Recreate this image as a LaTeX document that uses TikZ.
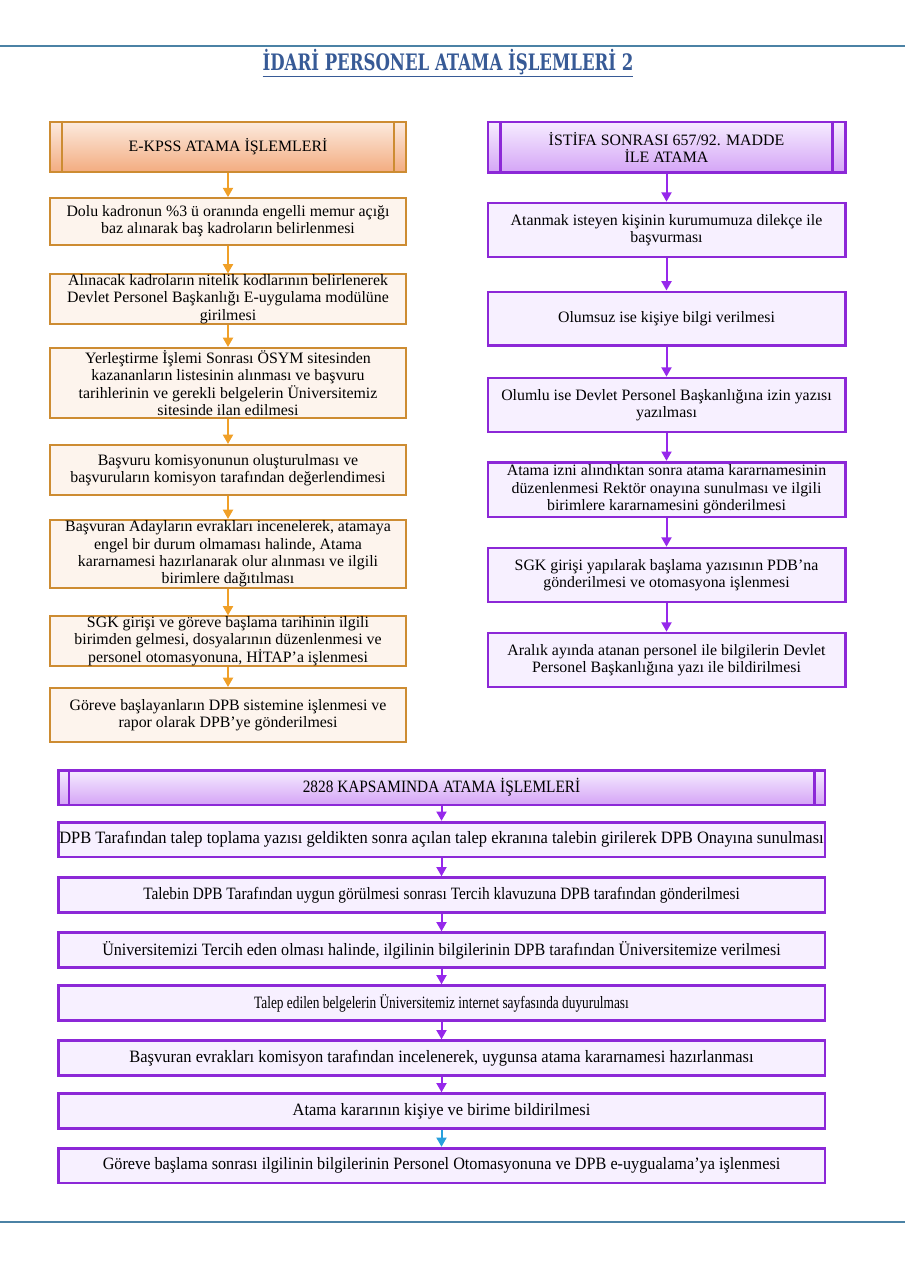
\documentclass[tikz,border=0pt]{standalone}
\usepackage{fontspec}
\usepackage{graphicx}
\setmainfont{Liberation Serif}
\newfontfamily\titlefont[FakeStretch=0.73]{DejaVu Serif}
\newfontfamily\narrowfont[FakeStretch=0.95]{Liberation Serif}
\usetikzlibrary{arrows.meta}

\definecolor{obord}{RGB}{205,140,50}
\definecolor{ofill}{RGB}{253,244,237}
\definecolor{oarrow}{RGB}{240,160,40}
\definecolor{otop}{RGB}{252,234,222}
\definecolor{obot}{RGB}{243,172,128}
\definecolor{pbord}{RGB}{140,40,215}
\definecolor{pfill}{RGB}{247,240,255}
\definecolor{parrow}{RGB}{150,40,235}
\definecolor{ptop}{RGB}{246,236,255}
\definecolor{pbot}{RGB}{212,164,246}
\definecolor{barrow}{RGB}{40,160,220}
\definecolor{rulecol}{RGB}{75,130,165}
\definecolor{titleblue}{RGB}{55,90,150}

% squeeze a line sideways
\newcommand{\squeezed}[2]{\scalebox{#1}[1]{#2}}

\begin{document}
\begin{tikzpicture}[x=0.75pt,y=-0.75pt]
\useasboundingbox (0,0) rectangle (905,1280);

% page rules and title
\draw[rulecol, line width=1.5pt] (0,46) -- (905,46);
\draw[rulecol, line width=1.5pt] (0,1222) -- (905,1222);
\node (title) at (448,63) [text=titleblue] {\titlefont\bfseries\fontsize{17}{20}\selectfont\underline{İDARİ PERSONEL ATAMA İŞLEMLERİ 2}};

\begin{scope}[every node/.style={align=center, inner sep=0pt, font=\fontsize{11.9}{13}\selectfont},
              obox/.style={draw=obord, line width=1.5pt, fill=ofill, minimum width=267pt},
              ohead/.style={draw=obord, line width=1.5pt, top color=otop, bottom color=obot, minimum width=267pt},
              pbox/.style={draw=pbord, line width=2pt, fill=pfill, minimum width=268pt},
              phead/.style={draw=pbord, line width=2pt, top color=ptop, bottom color=pbot, minimum width=268pt}]

    % E-KPSS column
    \node (e0) at (228, 147) [ohead, minimum height=37.5pt] {E-KPSS ATAMA İŞLEMLERİ};
    \node (e1) at (228, 221.5) [obox, minimum height=35pt] {Dolu kadronun \%3 ü oranında engelli memur açığı\\baz alınarak baş kadroların belirlenmesi};
    \node (e2) at (228, 299) [obox, minimum height=36pt] {Alınacak kadroların nitelik kodlarının belirlenerek\\Devlet Personel Başkanlığı E-uygulama modülüne\\girilmesi};
    \node (e3) at (228, 383) [obox, minimum height=52.5pt] {Yerleştirme İşlemi Sonrası ÖSYM sitesinden\\kazananların listesinin alınması ve başvuru\\tarihlerinin ve gerekli belgelerin Üniversitemiz\\sitesinde ilan edilmesi};
    \node (e4) at (228, 470) [obox, minimum height=37.5pt] {Başvuru komisyonunun oluşturulması ve\\başvuruların komisyon tarafından değerlendimesi};
    \node (e5) at (228, 554) [obox, minimum height=51pt] {Başvuran Adayların evrakları incenelerek, atamaya\\engel bir durum olmaması halinde, Atama\\kararnamesi hazırlanarak olur alınması ve ilgili\\birimlere dağıtılması};
    \node (e6) at (228, 641) [obox, minimum height=36pt] {SGK girişi ve göreve başlama tarihinin ilgili\\birimden gelmesi, dosyalarının düzenlenmesi ve\\personel otomasyonuna, HİTAP’a işlenmesi};
    \node (e7) at (228, 715) [obox, minimum height=40.5pt] {Göreve başlayanların DPB sistemine işlenmesi ve\\rapor olarak DPB’ye gönderilmesi};

    % istifa column
    \node (i0) at (666.5, 147.5) [phead, minimum height=38pt] {İSTİFA SONRASI 657/92. MADDE\\İLE ATAMA};
    \node (i1) at (666.5, 230) [pbox, minimum height=40.5pt] {Atanmak isteyen kişinin kurumumuza dilekçe ile\\başvurması};
    \node (i2) at (666.5, 318.5) [pbox, minimum height=40pt] {Olumsuz ise kişiye bilgi verilmesi};
    \node (i3) at (666.5, 405) [pbox, minimum height=40.5pt] {Olumlu ise Devlet Personel Başkanlığına izin yazısı\\yazılması};
    \node (i4) at (666.5, 489.5) [pbox, minimum height=41pt] {Atama izni alındıktan sonra atama kararnamesinin\\düzenlenmesi Rektör onayına sunulması ve ilgili\\birimlere kararnamesini gönderilmesi};
    \node (i5) at (666.5, 575) [pbox, minimum height=40.5pt] {SGK girişi yapılarak başlama yazısının PDB’na\\gönderilmesi ve otomasyona işlenmesi};
    \node (i6) at (666.5, 660) [pbox, minimum height=40.5pt] {Aralık ayında atanan personel ile bilgilerin Devlet\\Personel Başkanlığına yazı ile bildirilmesi};
\end{scope}

\begin{scope}[every node/.style={align=center, inner sep=0pt, font=\narrowfont\fontsize{13}{15}\selectfont},
              wbox/.style={draw=pbord, line width=2pt, fill=pfill, minimum width=575pt, minimum height=26pt},
              whead/.style={draw=pbord, line width=2pt, top color=ptop, bottom color=pbot, minimum width=575pt, minimum height=26pt}]

    % 2828 block
    \node (k0) at (441.5, 787.5) [whead] {\squeezed{0.93}{2828 KAPSAMINDA ATAMA İŞLEMLERİ}};
    \node (k1) at (441.5, 839.5) [wbox] {DPB Tarafından talep toplama yazısı geldikten sonra açılan talep ekranına talebin girilerek DPB Onayına sunulması};
    \node (k2) at (441.5, 895) [wbox] {\squeezed{0.93}{Talebin DPB Tarafından uygun görülmesi sonrası Tercih klavuzuna DPB tarafından gönderilmesi}};
    \node (k3) at (441.5, 950) [wbox] {\squeezed{0.977}{Üniversitemizi Tercih eden olması halinde, ilgilinin bilgilerinin DPB tarafından Üniversitemize verilmesi}};
    \node (k4) at (441.5, 1003) [wbox] {\squeezed{0.81}{Talep edilen belgelerin Üniversitemiz internet sayfasında duyurulması}};
    \node (k5) at (441.5, 1058) [wbox] {Başvuran evrakları komisyon tarafından incelenerek, uygunsa atama kararnamesi hazırlanması};
    \node (k6) at (441.5, 1111) [wbox] {Atama kararının kişiye ve birime bildirilmesi};
    \node (k7) at (441.5, 1165.5) [wbox] {\squeezed{0.985}{Göreve başlama sonrası ilgilinin bilgilerinin Personel Otomasyonuna ve DPB e-uygualama’ya işlenmesi}};
\end{scope}

% header side bars
\draw[obord, line width=1.5pt] ([xshift=10pt]e0.north west) -- ([xshift=10pt]e0.south west);
\draw[obord, line width=1.5pt] ([xshift=-10pt]e0.north east) -- ([xshift=-10pt]e0.south east);
\draw[pbord, line width=2pt] ([xshift=10.5pt]i0.north west) -- ([xshift=10.5pt]i0.south west);
\draw[pbord, line width=2pt] ([xshift=-10.5pt]i0.north east) -- ([xshift=-10.5pt]i0.south east);
\draw[pbord, line width=2pt] ([xshift=9pt]k0.north west) -- ([xshift=9pt]k0.south west);
\draw[pbord, line width=2pt] ([xshift=-9pt]k0.north east) -- ([xshift=-9pt]k0.south east);

% connectors
\begin{scope}[line width=1.5pt, >={Triangle[width=7.5pt,length=7pt]}]
    \foreach \a/\b in {e0/e1,e1/e2,e2/e3,e3/e4,e4/e5,e5/e6,e6/e7}
        \draw[->, oarrow] (\a) -- (\b);
    \foreach \a/\b in {i0/i1,i1/i2,i2/i3,i3/i4,i4/i5,i5/i6}
        \draw[->, parrow] (\a) -- (\b);
    \foreach \a/\b in {k0/k1,k1/k2,k2/k3,k3/k4,k4/k5,k5/k6}
        \draw[->, parrow] (\a) -- (\b);
    \draw[->, barrow] (k6) -- (k7);
\end{scope}
\end{tikzpicture}
\end{document}
